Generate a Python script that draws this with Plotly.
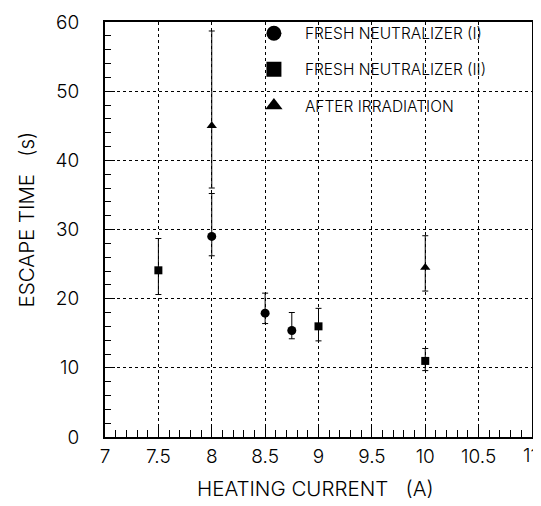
import plotly.graph_objects as go

# Fresh neutralizer (I)
x1 = [8.0, 8.5, 8.75]
y1 = [29.0, 17.9, 15.4]
y1_hi = [35.2, 20.8, 18.0]
y1_lo = [26.2, 16.4, 14.2]

# Fresh neutralizer (II)
x2 = [7.5, 9.0, 10.0]
y2 = [24.1, 16.0, 11.0]
y2_hi = [28.7, 18.6, 12.8]
y2_lo = [20.6, 13.9, 9.6]

# After irradiation
x3 = [8.0, 10.0]
y3 = [45.0, 24.5]
y3_hi = [58.7, 29.1]
y3_lo = [36.0, 21.1]

names = ["FRESH NEUTRALIZER (I)", "FRESH NEUTRALIZER (II)", "AFTER IRRADIATION"]
symbols = ["circle", "square", "triangle-up"]

xticks = [7, 7.5, 8, 8.5, 9, 9.5, 10, 10.5, 11]
xticklabels = ["7", "7.5", "8", "8.5", "9", "9.5", "10", "10.5", "11"]
yticks = [0, 10, 20, 30, 40, 50, 60]

FONT = "Inter"
WEIGHT = 300

fig = go.Figure()
series = [
    (x1, y1, y1_hi, y1_lo, 9),
    (x2, y2, y2_hi, y2_lo, 8),
    (x3, y3, y3_hi, y3_lo, 9),
]
for (xs, ys, hi, lo, sz), nm, sym in zip(series, names, symbols):
    fig.add_trace(go.Scatter(
        x=xs, y=ys, mode="markers", name=nm, showlegend=False,
        marker=dict(symbol=sym, size=sz, color="black"),
        error_y=dict(type="data", symmetric=False,
                     array=[h - v for h, v in zip(hi, ys)],
                     arrayminus=[v - l for v, l in zip(ys, lo)],
                     color="black", thickness=1, width=3),
    ))
# legend entries (larger symbols, as in the reference)
for i, (nm, sym) in enumerate(zip(names, symbols)):
    fig.add_trace(go.Scatter(
        x=[None], y=[None], mode="markers", name=nm, legendgroup=str(i),
        marker=dict(symbol=sym, size=15, color="black"),
    ))

tick_font = dict(family=FONT, size=19, color="black", weight=WEIGHT)
axis_common = dict(
    showline=True, linecolor="black", linewidth=2, mirror=True,
    ticks="inside", tickcolor="black", tickwidth=1,
    showgrid=True, gridcolor="black", gridwidth=1, griddash="dot",
    zeroline=False, automargin=False, ticklabeloverflow="allow",
    tickfont=tick_font,
)

# the last x label ("11") sits at the right window edge, so it is drawn right-aligned below
fig.update_xaxes(
    range=[7, 11], tickvals=xticks, ticktext=xticklabels[:-1] + [""], ticklen=12,
    ticklabelstandoff=1,
    minor=dict(dtick=0.1, ticks="inside", ticklen=7, tickcolor="black", tickwidth=1, showgrid=False),
    **axis_common,
)
fig.update_yaxes(
    range=[0, 60], tickvals=yticks, ticklen=10,
    ticklabelstandoff=20,
    minor=dict(dtick=2, ticks="inside", ticklen=6, tickcolor="black", tickwidth=1, showgrid=False),
    **axis_common,
)
fig.add_annotation(text=xticklabels[-1], x=xticks[-1], xref="x", y=-0.044, yref="paper",
                   xanchor="right", yanchor="middle", xshift=8, showarrow=False,
                   font=tick_font)

title_font = dict(family=FONT, size=20.5, color="black", weight=WEIGHT)
fig.add_annotation(text="HEATING CURRENT   (A)", xref="paper", yref="paper",
                   x=0.492, y=-0.124, xanchor="center", yanchor="middle",
                   showarrow=False, font=title_font)
fig.add_annotation(text="ESCAPE TIME   (s)", xref="paper", yref="paper",
                   x=-0.183, y=0.524, xanchor="center", yanchor="middle",
                   textangle=-90, showarrow=False, font=title_font)

# the page body adds an 8 px offset; size the figure so the plot box lands where it should
fig.update_layout(
    width=533, height=498,
    margin=dict(l=97, r=9, t=11, b=69),
    paper_bgcolor="white", plot_bgcolor="white",
    showlegend=True,
    legend=dict(x=0.323, y=1.013, xanchor="left", yanchor="top",
                bgcolor="rgba(0,0,0,0)", borderwidth=0,
                font=dict(family=FONT, size=15.5, color="black", weight=WEIGHT),
                tracegroupgap=13, itemwidth=52),
)

fig.write_html("out.html")
